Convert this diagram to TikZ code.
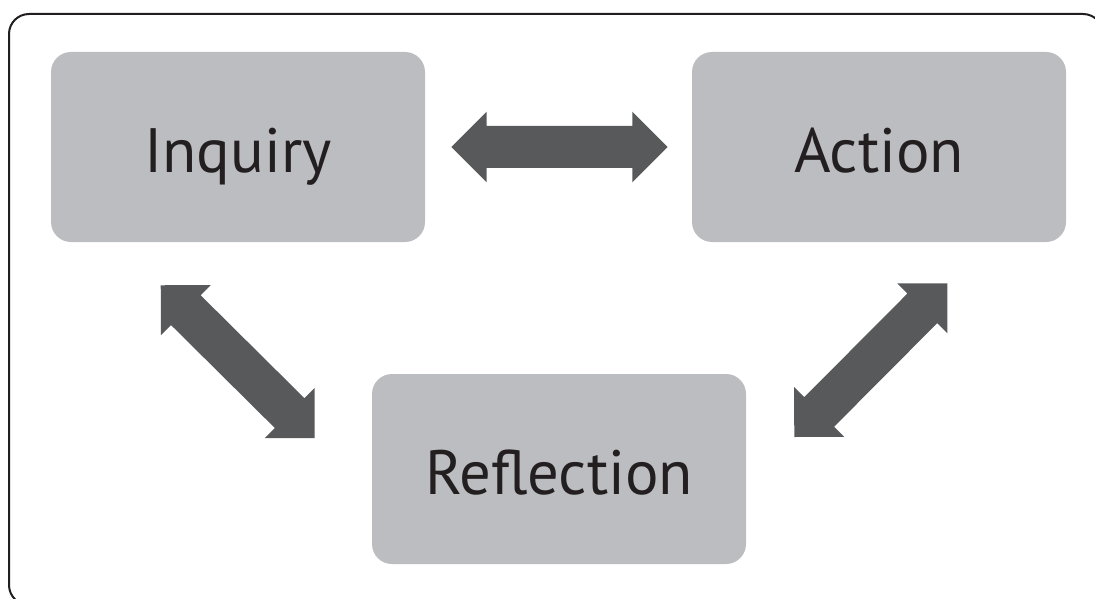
\documentclass[tikz,border=0pt]{standalone}
\usepackage{fontspec}
\setmainfont{PT Sans}
\usetikzlibrary{arrows.meta,positioning,calc}
\definecolor{boxgray}{HTML}{BCBDC0}
\definecolor{arrgray}{HTML}{58595B}
\definecolor{ink}{HTML}{231F20}
% double block arrow between two named points
\newcommand\twoway[2]{%
    \fill[arrgray] (#1) -- ($(#1)!\hl!(#2)!\hw!90:(#2)$) -- ($(#1)!\hl!(#2)!\sw!90:(#2)$)
        -- ($(#2)!\hl!(#1)!\sw!-90:(#1)$) -- ($(#2)!\hl!(#1)!\hw!-90:(#1)$) -- (#2)
        -- ($(#2)!\hl!(#1)!\hw!90:(#1)$) -- ($(#2)!\hl!(#1)!\sw!90:(#1)$)
        -- ($(#1)!\hl!(#2)!\sw!-90:(#2)$) -- ($(#1)!\hl!(#2)!\hw!-90:(#2)$) -- cycle;}
\begin{document}
\begin{tikzpicture}[x=0.75pt,y=-0.75pt,
        box/.style={fill=boxgray,rounded corners=15pt,minimum width=280.5pt,minimum height=142.5pt,
            inner sep=0pt,text=ink,font=\fontsize{47}{50}\selectfont,text height=37.5pt,text depth=0pt}]
        \def\hl{26.5pt}
        \def\hw{26.5pt}
        \def\sw{15.75pt}
        \useasboundingbox (0,0) rectangle (1095,599);
        % outer frame, cut by the page
        \begin{scope}
        \clip (0,0) rectangle (1095,599);
        \draw[ink,line width=1.5pt,rounded corners=15pt] (9,14) rectangle (1103,605);
        \end{scope}
        % the three stages
        \node[box] (inq) at (238,147) {Inquiry};
        \node[box] (act) at (879,147) {Action};
        \node[box] (refl) at (559,469) {Reflection};
        % arrow ends
        \coordinate (ia) at ([shift={(26,0)}]inq.east);
        \coordinate (ai) at ([shift={(-24,0)}]act.west);
        \coordinate (ir) at ([shift={(110,43)}]inq.south west);
        \coordinate (ri) at ([shift={(-57,-31)}]refl.west);
        \coordinate (ar) at ([shift={(-119,41)}]act.south east);
        \coordinate (ra) at ([shift={(48,-32)}]refl.east);
        \twoway{ia}{ai}
        \twoway{ir}{ri}
        \twoway{ar}{ra}
\end{tikzpicture}
\end{document}
